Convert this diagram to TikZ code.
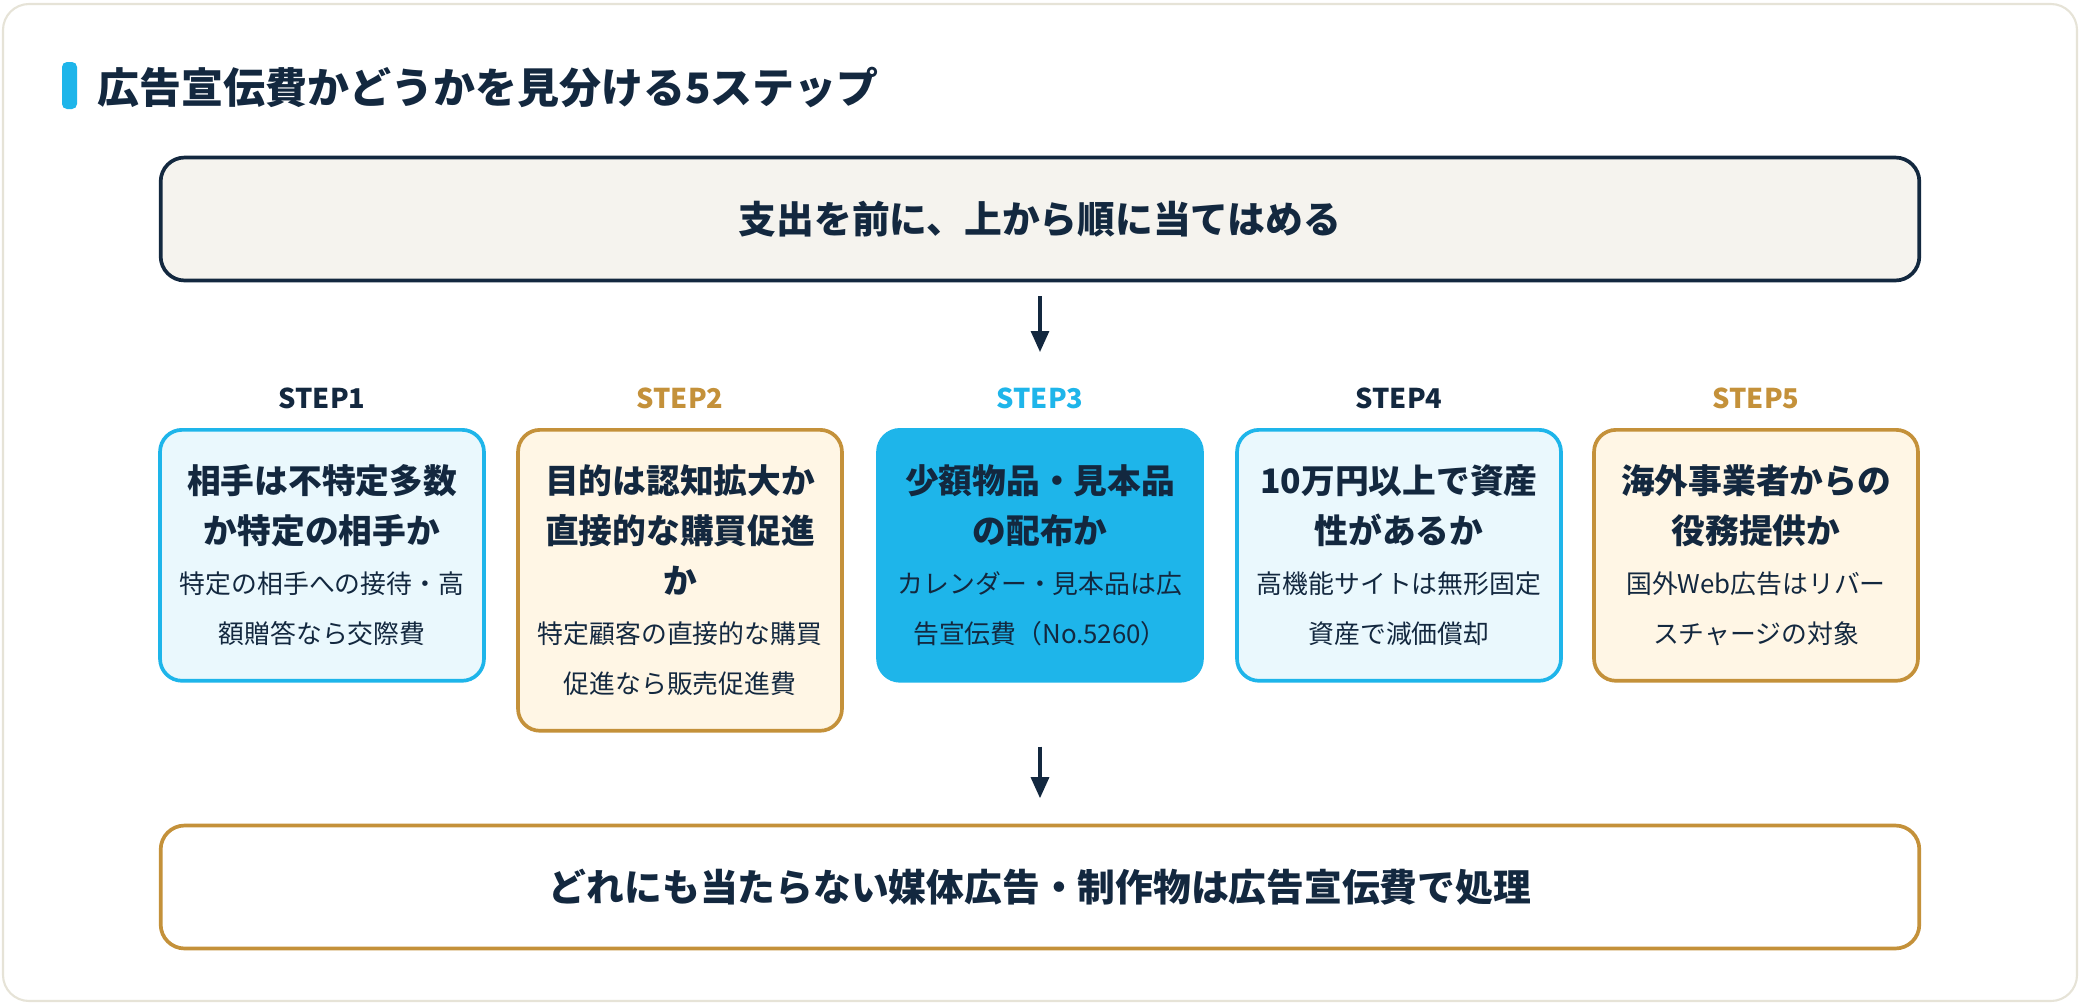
\documentclass[tikz,border=0pt]{standalone}
\usepackage{fontspec}
\setmainfont{Noto Sans CJK JP}
\usepackage{tikz}
\usetikzlibrary{arrows.meta,positioning}

\definecolor{navy}{HTML}{13283F}
\definecolor{sky}{HTML}{1EB5EA}
\definecolor{skylight}{HTML}{EAF8FD}
\definecolor{gold}{HTML}{C4913A}
\definecolor{cream}{HTML}{FFF6E5}
\definecolor{paper}{HTML}{F5F3EE}
\definecolor{frame}{HTML}{E6E3D7}

\newcommand{\boxtitle}[1]{{\bfseries\fontsize{19.2}{28.5}\selectfont #1\par}}
\newcommand{\boxnote}[1]{{\fontsize{14.7}{28.5}\selectfont #1\par}}

\begin{document}
\begin{tikzpicture}[
    x=0.02cm, y=-0.02cm,
    stepbox/.style={rectangle, rounded corners=0.44cm, line width=2.1pt, minimum width=6.48cm, minimum height=5.02cm, text width=5.9cm, align=center, anchor=north, text=navy, inner sep=0.1cm},
    bluebox/.style={stepbox, draw=sky, fill=skylight},
    goldbox/.style={stepbox, draw=gold, fill=cream},
    hotbox/.style={stepbox, draw=sky, fill=sky},
    steplabel/.style={font=\bfseries\fontsize{15.5}{18}\selectfont},
    banner/.style={rectangle, rounded corners=0.48cm, line width=2.1pt, minimum width=35.18cm, minimum height=2.46cm, text=navy, font=\bfseries\fontsize{21.5}{26}\selectfont},
    flow/.style={-{Triangle[length=0.42cm,width=0.36cm]}, line width=1.8pt, draw=navy}
]
    \useasboundingbox (0,0) rectangle (2080,1004);
    \draw[frame, line width=1.2pt, rounded corners=0.52cm, fill=white] (3,4) rectangle (2077,1001);

    % Title
    \fill[sky, rounded corners=0.1cm] (62,62) rectangle (77,109);
    \node[anchor=west, text=navy, font=\bfseries\fontsize{23.9}{28}\selectfont, inner sep=0] (title) at (97,88) {広告宣伝費かどうかを見分ける5ステップ};

    % Start
    \node[banner, draw=navy, fill=paper] (start) at (1040,219) {支出を前に、上から順に当てはめる};

    % Step labels
    \node[steplabel, text=navy] (l1) at (322,398) {STEP1};
    \node[steplabel, text=gold] (l2) at (680,398) {STEP2};
    \node[steplabel, text=sky] (l3) at (1040,398) {STEP3};
    \node[steplabel, text=navy] (l4) at (1399,398) {STEP4};
    \node[steplabel, text=gold] (l5) at (1756,398) {STEP5};

    % Steps
    \node[bluebox] (s1) at (322,428) {\boxtitle{相手は不特定多数\\か特定の相手か}\boxnote{特定の相手への接待・高\\額贈答なら交際費}};
    \node[goldbox, minimum height=6.02cm] (s2) at (680,428) {\boxtitle{目的は認知拡大か\\直接的な購買促進\\か}\boxnote{特定顧客の直接的な購買\\促進なら販売促進費}};
    \node[hotbox] (s3) at (1040,428) {\boxtitle{少額物品・見本品\\の配布か}\boxnote{カレンダー・見本品は広\\告宣伝費（No.5260）}};
    \node[bluebox] (s4) at (1399,428) {\boxtitle{10万円以上で資産\\性があるか}\boxnote{高機能サイトは無形固定\\資産で減価償却}};
    \node[goldbox] (s5) at (1756,428) {\boxtitle{海外事業者からの\\役務提供か}\boxnote{国外Web広告はリバー\\スチャージの対象}};

    % Result
    \node[banner, draw=gold, fill=white] (finish) at (1040,887) {どれにも当たらない媒体広告・制作物は広告宣伝費で処理};

    % Flow
    \draw[flow, shorten <=0.28cm, shorten >=1.52cm] (start.south) -- (s3.north);
    \draw[flow, shorten <=1.28cm, shorten >=0.51cm] (s3.south) -- (finish.north);
\end{tikzpicture}
\end{document}
